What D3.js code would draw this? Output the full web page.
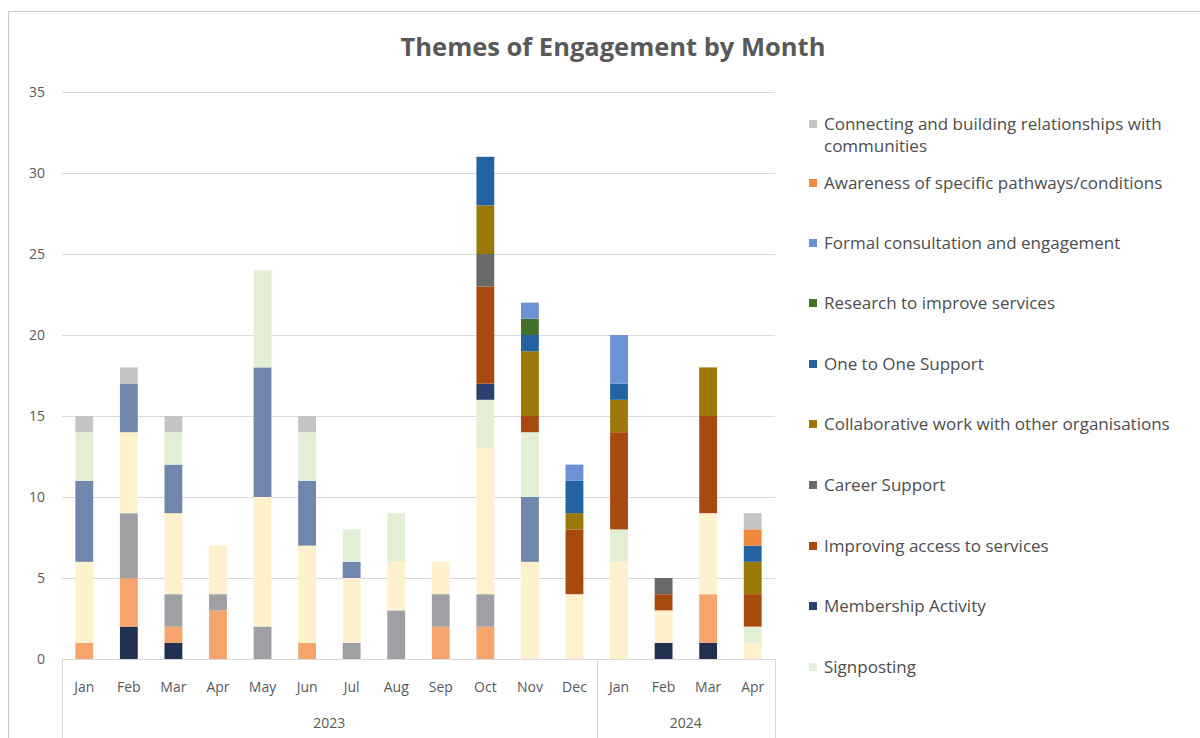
<!DOCTYPE html>
<html>
<head>
<meta charset="utf-8">
<script src="https://cdn.jsdelivr.net/npm/d3@7"></script>
<style>
  html, body { margin: 0; padding: 0; background: #ffffff; }
  svg { display: block; }
  text { font-family: "Open Sans", "Noto Sans", sans-serif; }
</style>
</head>
<body>
<svg id="chart" width="1200" height="738"></svg>
<script>
// Months on the category axis, grouped by year
const months = ["Jan","Feb","Mar","Apr","May","Jun","Jul","Aug","Sep","Oct","Nov","Dec","Jan","Feb","Mar","Apr"];
const years = ["2023", "2024"];
const monthsPerYear = [12, 4];
const yTicks = [0, 5, 10, 15, 20, 25, 30, 35];

// Series in stacking order (bottom first)
const seriesNames = [
  "Other theme 1",
  "Other theme 2",
  "Other theme 3",
  "Other theme 4",
  "Other theme 5",
  "Signposting",
  "Membership Activity",
  "Improving access to services",
  "Career Support",
  "Collaborative work with other organisations",
  "One to One Support",
  "Research to improve services",
  "Formal consultation and engagement",
  "Awareness of specific pathways/conditions",
  "Connecting and building relationships with communities"
];
const seriesColors = [
  "#22304f", "#f5a46b", "#9ea0a4", "#fff1cc", "#7086ad",
  "#e3efd5", "#2c3f70", "#a84a10", "#696969", "#9b7808",
  "#2463a2", "#44702c", "#6d92d4", "#f0883e", "#c4c4c4"
];

// Engagement counts per month (Jan 2023 .. Apr 2024), one array per series
const other1        = [0,2,1,0,0,0,0,0,0,0,0,0,0,1,1,0];
const other2        = [1,3,1,3,0,1,0,0,2,2,0,0,0,0,3,0];
const other3        = [0,4,2,1,2,0,1,3,2,2,0,0,0,0,0,0];
const other4        = [5,5,5,3,8,6,4,3,2,9,6,4,6,2,5,1];
const other5        = [5,3,3,0,8,4,1,0,0,0,4,0,0,0,0,0];
const signposting   = [3,0,2,0,6,3,2,3,0,3,4,0,2,0,0,1];
const membership    = [0,0,0,0,0,0,0,0,0,1,0,0,0,0,0,0];
const improving     = [0,0,0,0,0,0,0,0,0,6,1,4,6,1,6,2];
const career        = [0,0,0,0,0,0,0,0,0,2,0,0,0,1,0,0];
const collaborative = [0,0,0,0,0,0,0,0,0,3,4,1,2,0,3,2];
const oneToOne      = [0,0,0,0,0,0,0,0,0,3,1,2,1,0,0,1];
const research      = [0,0,0,0,0,0,0,0,0,0,1,0,0,0,0,0];
const formal        = [0,0,0,0,0,0,0,0,0,0,1,1,3,0,0,0];
const awareness     = [0,0,0,0,0,0,0,0,0,0,0,0,0,0,0,1];
const connecting    = [1,1,1,0,0,1,0,0,0,0,0,0,0,0,0,1];

const seriesValues = [other1, other2, other3, other4, other5, signposting, membership,
  improving, career, collaborative, oneToOne, research, formal, awareness, connecting];

// Legend shows the top ten series, listed from the top of the stack down
const legendCount = 10;

const svg = d3.select("#chart");
const textColor = "#595959";

// Chart frame
svg.append("rect").attr("x", 0).attr("y", 0).attr("width", 1200).attr("height", 738).attr("fill", "#fff");
svg.append("path")
  .attr("d", "M8.5,738 V11.5 H1200")
  .attr("fill", "none").attr("stroke", "#c8c8c8").attr("stroke-width", 1);

// Title
svg.append("text")
  .attr("x", 613).attr("y", 56)
  .attr("text-anchor", "middle")
  .attr("font-size", 25.5).attr("font-weight", 700)
  .attr("fill", textColor)
  .text("Themes of Engagement by Month");

const plot = { left: 62, right: 775, top: 92, bottom: 659 };

const idx = d3.range(months.length);
const x = d3.scaleBand().domain(idx).range([plot.left, plot.right]).paddingInner(0.6).paddingOuter(0.3);
const y = d3.scaleLinear().domain([0, 35]).range([plot.bottom, plot.top]);

// Gridlines
svg.append("g").selectAll("line").data(yTicks.filter(t => t > 0)).join("line")
  .attr("x1", plot.left).attr("x2", plot.right)
  .attr("y1", d => Math.round(y(d)) + 0.5).attr("y2", d => Math.round(y(d)) + 0.5)
  .attr("stroke", "#d9d9d9").attr("stroke-width", 1);

// Y axis labels
const yAxis = d3.axisLeft(y).tickValues(yTicks).tickSize(0).tickPadding(0);
const gy = svg.append("g").attr("transform", `translate(45,0)`).call(yAxis);
gy.select(".domain").remove();
gy.selectAll("text").attr("font-size", 14).attr("fill", textColor)
  .attr("font-family", "'Open Sans', sans-serif");

// Stacked bars
const rows = idx.map(i => {
  const r = { i };
  seriesNames.forEach((n, k) => { r[n] = seriesValues[k][i]; });
  return r;
});
const stacked = d3.stack().keys(seriesNames)(rows);
const color = d3.scaleOrdinal().domain(seriesNames).range(seriesColors);

svg.append("g").selectAll("g").data(stacked).join("g")
  .attr("fill", d => color(d.key))
  .selectAll("rect").data(d => d.filter(p => p[1] > p[0])).join("rect")
  .attr("x", d => x(d.data.i))
  .attr("width", x.bandwidth())
  .attr("y", d => y(d[1]))
  .attr("height", d => y(d[0]) - y(d[1]));

// Category axis: baseline, month labels, year groups
svg.append("line")
  .attr("x1", plot.left).attr("x2", plot.right)
  .attr("y1", plot.bottom + 0.5).attr("y2", plot.bottom + 0.5)
  .attr("stroke", "#d9d9d9");

const xAxis = d3.axisBottom(x).tickFormat(i => months[i]).tickSize(0).tickPadding(0);
const gx = svg.append("g").attr("transform", `translate(0,${plot.bottom + 33})`).call(xAxis);
gx.select(".domain").remove();
gx.selectAll("text").attr("font-size", 14).attr("fill", textColor)
  .attr("dy", 0).attr("font-family", "'Open Sans', sans-serif");

// Year group separators and labels
let start = 0;
const bounds = [plot.left];
years.forEach((yr, j) => {
  const end = start + monthsPerYear[j] - 1;
  const x0 = x(start) - x.step() * x.paddingInner() / 2;
  const x1 = x(end) + x.bandwidth() + x.step() * x.paddingInner() / 2;
  const left = j === 0 ? plot.left : x0;
  const right = j === years.length - 1 ? plot.right : x1;
  svg.append("text")
    .attr("x", (left + right) / 2).attr("y", 728)
    .attr("text-anchor", "middle").attr("font-size", 14).attr("fill", textColor)
    .text(yr);
  bounds.push(right);
  start = end + 1;
});
svg.append("g").selectAll("line").data(bounds).join("line")
  .attr("x1", d => Math.round(d) + 0.5).attr("x2", d => Math.round(d) + 0.5)
  .attr("y1", plot.bottom).attr("y2", 738)
  .attr("stroke", "#d9d9d9");

// Legend
const legendItems = seriesNames.map((n, k) => ({ name: n, color: seriesColors[k] }))
  .reverse().slice(0, legendCount);
const legendY = [130, 189, 249, 309, 370, 430, 491, 552, 612, 673];
const lg = svg.append("g");
legendItems.forEach((d, k) => {
  const g = lg.append("g").attr("transform", `translate(809,${legendY[k]})`);
  g.append("rect").attr("x", 0).attr("y", -10).attr("width", 8).attr("height", 8).attr("fill", d.color);
  const t = g.append("text").attr("x", 15).attr("y", 0).attr("font-size", 17).attr("fill", "#4d4d4d");
  if (d.name.startsWith("Connecting")) {
    t.append("tspan").attr("x", 15).attr("dy", 0).text("Connecting and building relationships with");
    t.append("tspan").attr("x", 15).attr("dy", 22).text("communities");
  } else {
    t.text(d.name);
  }
});
</script>
</body>
</html>
